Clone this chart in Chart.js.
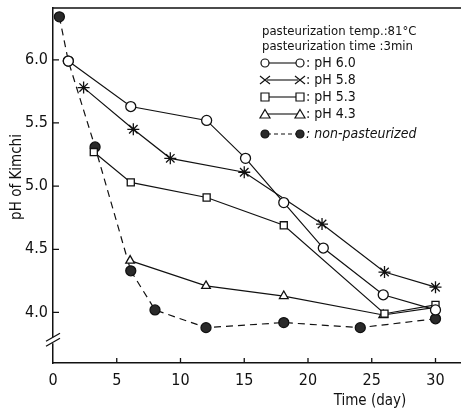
<!DOCTYPE html>
<html>
<head>
<meta charset="utf-8">
<script src="https://cdn.jsdelivr.net/npm/chart.js@4.4.1/dist/chart.umd.min.js"></script>
<style>
  html, body { margin: 0; padding: 0; background: #fff; }
  #wrap { width: 461px; height: 412px; position: relative; }
</style>
</head>
<body>
<div id="wrap"><canvas id="kimchiChart"></canvas></div>
<script>
// pH of kimchi over storage time, pasteurized at different starting pH
var dayTicks = [0, 5, 10, 15, 20, 25, 30];
var phTicks = [4.0, 4.5, 5.0, 5.5, 6.0];

var ph60 = [{x: 1.2, y: 5.99}, {x: 6.1, y: 5.63}, {x: 12.05, y: 5.52}, {x: 15.1, y: 5.22}, {x: 18.1, y: 4.87}, {x: 21.2, y: 4.51}, {x: 25.9, y: 4.14}, {x: 30, y: 4.02}];
var ph58 = [{x: 2.4, y: 5.78}, {x: 6.3, y: 5.45}, {x: 9.2, y: 5.22}, {x: 15.0, y: 5.11}, {x: 21.1, y: 4.70}, {x: 26.0, y: 4.32}, {x: 30, y: 4.20}];
var ph53 = [{x: 3.2, y: 5.27}, {x: 6.1, y: 5.03}, {x: 12.05, y: 4.91}, {x: 18.1, y: 4.69}, {x: 26.0, y: 3.99}, {x: 30, y: 4.06}];
var ph43 = [{x: 6.05, y: 4.41}, {x: 12.0, y: 4.21}, {x: 18.1, y: 4.13}, {x: 25.9, y: 3.98}, {x: 30, y: 4.04}];
var nonPast = [{x: 0.5, y: 6.34}, {x: 1.2, y: 5.99}, {x: 3.3, y: 5.31}, {x: 6.1, y: 4.33}, {x: 8.0, y: 4.02}, {x: 12.0, y: 3.88}, {x: 18.1, y: 3.92}, {x: 24.1, y: 3.88}, {x: 30, y: 3.95}];

var legendHead = ['pasteurization temp.:81\u00B0C', 'pasteurization time :3min'];
var legendNames = [': pH 6.0', ': pH 5.8', ': pH 5.3', ': pH 4.3', ': non-pasteurized'];
var xTitle = 'Time (day)';
var yTitle = 'pH of Kimchi';

var narrow = '"DejaVu Sans Condensed", "Liberation Sans Narrow", "Liberation Sans", sans-serif';

function serie(data, style, dashed) {
    return {
        data: data,
        borderColor: '#111',
        borderWidth: 1.2,
        borderDash: dashed ? [7, 5] : [],
        pointStyle: style,
        pointRadius: style === 'star' ? 6 : 5,
        pointBorderColor: '#111',
        pointBorderWidth: 1.3,
        pointBackgroundColor: dashed ? '#2a2a2a' : '#fff',
        showLine: true,
        tension: 0
    };
}

// inward ticks, top frame line, axis break, titles and the legend box
var decor = {
    id: 'decor',
    afterDraw: function (chart) {
        var c = chart.ctx, a = chart.chartArea;
        var sx = chart.scales.x, sy = chart.scales.y;
        c.save();
        c.strokeStyle = '#111';
        c.lineWidth = 1.3;
        c.beginPath();
        dayTicks.forEach(function (d) {
            if (d === 0) return;
            var px = sx.getPixelForValue(d);
            c.moveTo(px, a.bottom); c.lineTo(px, a.bottom - 5);
        });
        phTicks.forEach(function (v) {
            var py = sy.getPixelForValue(v);
            c.moveTo(a.left, py); c.lineTo(a.left + 6, py);
        });
        c.moveTo(a.left, a.top); c.lineTo(a.right, a.top);
        c.stroke();

        // axis break
        var by = sy.getPixelForValue(3.78);
        c.fillStyle = '#fff';
        c.fillRect(a.left - 3, by - 3, 6, 6);
        c.beginPath();
        c.moveTo(a.left - 7, by + 1); c.lineTo(a.left + 7, by - 7);
        c.moveTo(a.left - 7, by + 6); c.lineTo(a.left + 7, by - 2);
        c.stroke();

        // axis titles
        c.fillStyle = '#111';
        c.textBaseline = 'middle';
        c.textAlign = 'center';
        c.font = '15px ' + narrow;
        c.fillText(xTitle, 370, 401);
        c.save();
        c.translate(17, 177);
        c.rotate(-Math.PI / 2);
        c.fillText(yTitle, 0, 0);
        c.restore();

        // legend
        c.textAlign = 'left';
        c.font = '13px ' + narrow;
        c.fillText(legendHead[0], 262, 32);
        c.fillText(legendHead[1], 262, 47);
        var rows = [63, 80, 97, 114, 134];
        chart.data.datasets.forEach(function (ds, i) {
            var y = rows[i];
            c.beginPath();
            c.setLineDash(ds.borderDash.length ? [4, 3] : []);
            c.lineWidth = 1.1;
            c.moveTo(267, y); c.lineTo(298, y);
            c.stroke();
            c.setLineDash([]);
            [265, 300].forEach(function (px) {
                c.beginPath();
                c.lineWidth = 1.2;
                if (ds.pointStyle === 'circle') {
                    c.arc(px, y, 4, 0, Math.PI * 2);
                    c.fillStyle = ds.pointBackgroundColor; c.fill(); c.stroke();
                } else if (ds.pointStyle === 'rect') {
                    c.rect(px - 4, y - 4, 8, 8);
                    c.fillStyle = '#fff'; c.fill(); c.stroke();
                } else if (ds.pointStyle === 'triangle') {
                    c.moveTo(px, y - 4.5); c.lineTo(px + 5, y + 4); c.lineTo(px - 5, y + 4); c.closePath();
                    c.fillStyle = '#fff'; c.fill(); c.stroke();
                } else {
                    c.moveTo(px - 5, y - 4); c.lineTo(px + 5, y + 4);
                    c.moveTo(px - 5, y + 4); c.lineTo(px + 5, y - 4);
                    c.stroke();
                }
            });
            c.fillStyle = '#111';
            c.font = (i === 4 ? 'italic ' : '') + '14px ' + narrow;
            c.fillText(legendNames[i], 306, y);
        });
        c.restore();
    }
};

new Chart(document.getElementById('kimchiChart'), {
    type: 'scatter',
    data: {
        datasets: [
            serie(ph60, 'circle', false),
            serie(ph58, 'star', false),
            serie(ph53, 'rect', false),
            serie(ph43, 'triangle', false),
            serie(nonPast, 'circle', true)
        ]
    },
    plugins: [decor],
    options: {
        responsive: true,
        maintainAspectRatio: false,
        animation: false,
        layout: { autoPadding: false, padding: { top: 8, right: 0, left: 0, bottom: 0 } },
        plugins: { legend: { display: false }, tooltip: { enabled: false } },
        scales: {
            x: {
                type: 'linear',
                min: 0,
                max: 32,
                afterBuildTicks: function (s) { s.ticks = dayTicks.map(function (v) { return {value: v}; }); },
                afterFit: function (s) { s.height = 49; s.paddingLeft = 0; s.paddingRight = 0; },
                grid: { display: true, drawOnChartArea: false, drawTicks: false },
                border: { display: true, color: '#111', width: 1.5 },
                ticks: { color: '#111', padding: 8, maxRotation: 0, font: { family: narrow, size: 16 } }
            },
            y: {
                min: 3.6,
                max: 6.41,
                afterBuildTicks: function (s) { s.ticks = phTicks.map(function (v) { return {value: v}; }); },
                afterFit: function (s) { s.width = 53; s.paddingTop = 0; s.paddingBottom = 0; },
                grid: { display: true, drawOnChartArea: false, drawTicks: false },
                border: { display: true, color: '#111', width: 1.5 },
                ticks: { color: '#111', padding: 5, font: { family: narrow, size: 16 }, callback: function (v) { return v.toFixed(1); } }
            }
        }
    }
});
</script>
</body>
</html>
